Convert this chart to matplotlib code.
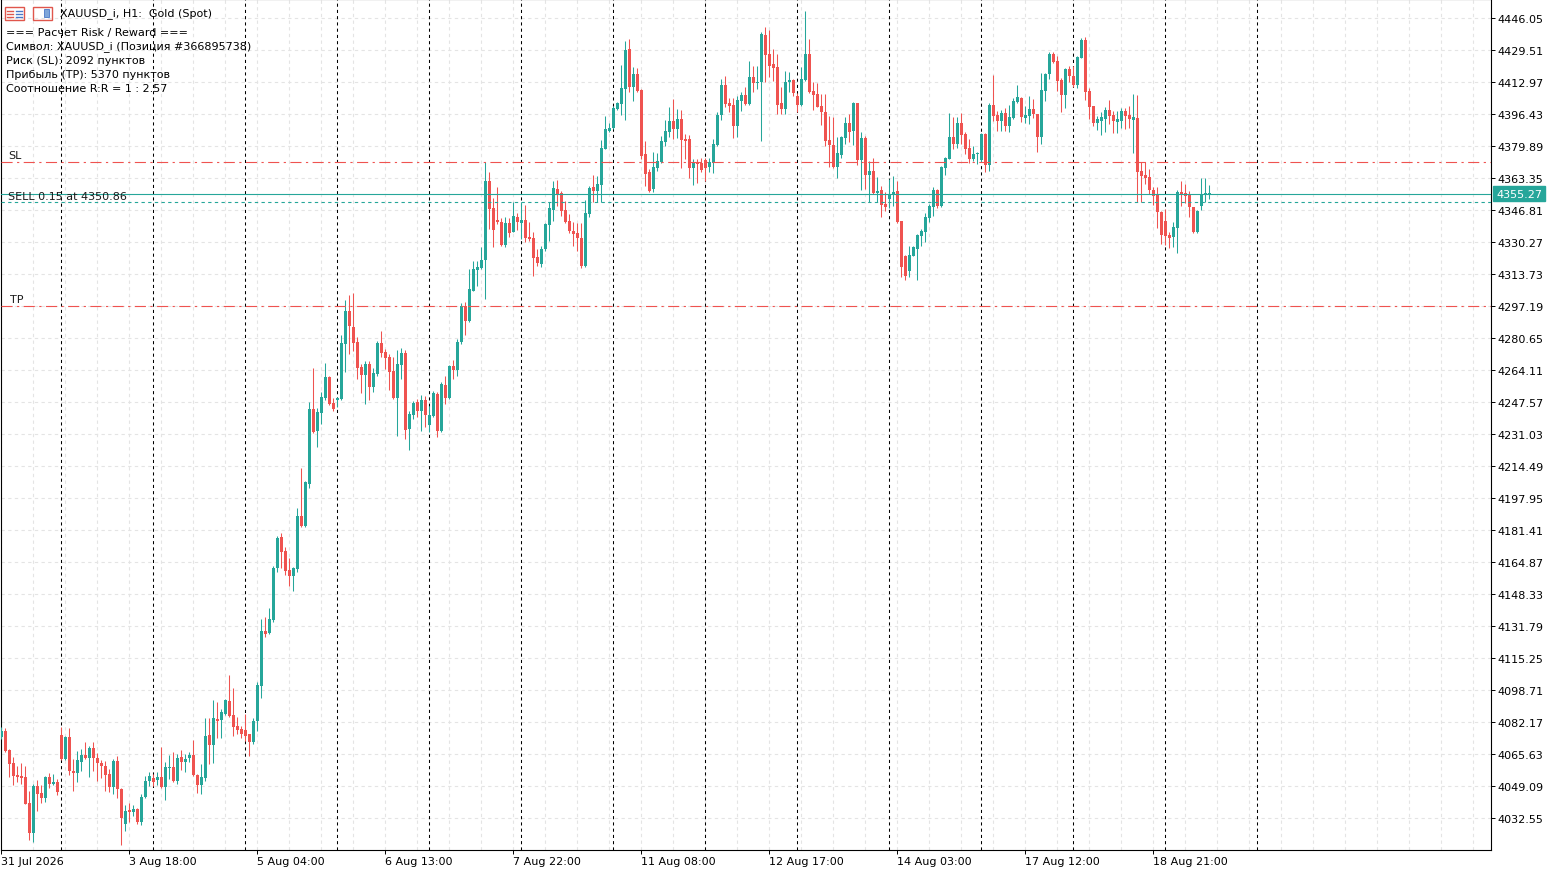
import numpy as np
import matplotlib
matplotlib.use('agg')
import matplotlib.pyplot as plt
from matplotlib.patches import Rectangle
from matplotlib.lines import Line2D
from matplotlib.ticker import MultipleLocator

# XAUUSD_i H1 bars (31 Jul 2026 09:00 .. 19 Aug 2026)
opens = [
    4074.4, 4077.5, 4067.7, 4061.0, 4054.8, 4054.2, 4053.7, 4040.3, 4024.8, 4049.1,
    4045.5, 4042.9, 4053.7, 4050.1, 4051.1, 4075.4, 4063.0, 4074.4, 4056.8, 4055.8,
    4061.5, 4065.1, 4063.5, 4068.7, 4063.5, 4061.0, 4059.4, 4055.3, 4048.6, 4062.0,
    4047.5, 4029.4, 4036.7, 4035.6, 4037.2, 4030.5, 4043.4, 4051.7, 4053.2, 4052.2,
    4053.7, 4048.6, 4058.6, 4059.0, 4051.7, 4064.1, 4061.5, 4063.5, 4065.1, 4054.8,
    4049.6, 4053.2, 4075.4, 4070.3, 4083.7, 4083.2, 4086.3, 4093.0, 4085.8, 4080.1,
    4078.5, 4078.0, 4075.9, 4071.8, 4082.7, 4100.8, 4129.2, 4128.1, 4134.9, 4161.8,
    4177.8, 4170.5, 4160.7, 4157.6, 4161.2, 4188.6, 4183.5, 4205.2, 4243.9, 4232.6,
    4241.9, 4249.6, 4260.5, 4247.0, 4248.6, 4249.1, 4277.5, 4294.6, 4286.3, 4278.6,
    4265.6, 4261.5, 4267.2, 4255.3, 4262.0, 4278.1, 4273.4, 4270.8, 4263.6, 4249.6,
    4266.7, 4272.9, 4233.6, 4240.8, 4247.6, 4242.9, 4248.6, 4235.7, 4240.3, 4251.7,
    4232.6, 4256.3, 4249.6, 4266.2, 4264.1, 4278.6, 4297.2, 4289.4, 4304.9, 4315.8,
    4316.8, 4321.0, 4361.8, 4347.8, 4341.6, 4340.6, 4328.7, 4340.1, 4335.4, 4343.2,
    4340.1, 4341.6, 4332.8, 4332.3, 4322.5, 4318.9, 4326.6, 4339.1, 4346.8, 4357.7,
    4355.6, 4346.8, 4341.1, 4335.9, 4334.9, 4332.3, 4317.9, 4344.7, 4358.7, 4356.6,
    4359.7, 4378.3, 4387.6, 4389.2, 4399.0, 4401.6, 4409.4, 4430.0, 4410.4, 4417.1,
    4408.8, 4375.7, 4366.4, 4357.7, 4368.5, 4371.6, 4382.0, 4387.1, 4392.8, 4388.7,
    4393.8, 4383.5, 4383.5, 4368.5, 4371.6, 4371.1, 4372.7, 4369.0, 4371.1, 4380.4,
    4395.9, 4411.4, 4402.1, 4401.1, 4390.2, 4403.1, 4406.2, 4401.6, 4415.6, 4412.5,
    4413.0, 4437.3, 4427.4, 4422.3, 4420.7, 4402.1, 4399.0, 4413.0, 4414.0, 4405.7,
    4401.1, 4414.0, 4427.4, 4408.3, 4406.8, 4400.6, 4397.5, 4383.0, 4380.4, 4369.0,
    4375.2, 4384.0, 4391.8, 4387.6, 4402.1, 4372.7, 4384.0, 4364.9, 4367.0, 4355.6,
    4357.1, 4349.9, 4352.5, 4354.6, 4356.6, 4341.1, 4323.0, 4315.3, 4323.0, 4326.6,
    4333.4, 4335.4, 4342.7, 4348.4, 4357.1, 4348.9, 4368.5, 4373.2, 4384.5, 4380.9,
    4391.8, 4386.1, 4378.9, 4373.2, 4375.8, 4372.7, 4386.1, 4370.1, 4401.1, 4395.9,
    4392.8, 4396.9, 4390.2, 4394.3, 4402.6, 4404.7, 4394.3, 4395.4, 4399.0, 4396.4,
    4384.5, 4408.3, 4417.1, 4427.4, 4423.8, 4414.0, 4406.2, 4419.7, 4416.1, 4411.4,
    4425.4, 4434.7, 4408.3, 4400.6, 4391.8, 4392.8, 4393.8, 4398.5, 4395.9, 4392.3,
    4392.8, 4398.0, 4395.9, 4393.3, 4394.3, 4367.0, 4364.9, 4363.9, 4357.1, 4354.6,
    4345.8, 4341.1, 4333.9, 4332.8, 4337.5, 4356.1, 4355.6, 4354.6, 4348.4, 4335.4,
    4348.9, 4354.9, 4355.1,
]
highs = [
    4079.6, 4079.0, 4068.0, 4064.1, 4059.4, 4061.0, 4059.4, 4046.5, 4050.1, 4052.2,
    4049.6, 4054.2, 4055.8, 4055.3, 4052.7, 4079.6, 4074.9, 4079.0, 4063.0, 4067.2,
    4068.2, 4071.8, 4069.7, 4071.8, 4066.1, 4062.5, 4062.0, 4057.9, 4063.0, 4064.6,
    4047.9, 4039.3, 4040.3, 4039.3, 4037.7, 4044.9, 4054.2, 4056.3, 4055.3, 4056.3,
    4069.2, 4061.5, 4065.1, 4066.7, 4065.6, 4067.7, 4065.6, 4066.7, 4072.8, 4055.3,
    4060.4, 4084.2, 4084.2, 4093.5, 4092.5, 4088.9, 4093.9, 4106.4, 4099.7, 4084.7,
    4080.1, 4086.3, 4076.2, 4084.2, 4102.8, 4135.4, 4136.4, 4141.1, 4162.8, 4178.3,
    4179.8, 4172.6, 4166.9, 4162.3, 4192.8, 4213.4, 4206.7, 4247.6, 4265.1, 4244.5,
    4252.7, 4267.7, 4261.0, 4249.6, 4250.1, 4282.2, 4300.3, 4302.9, 4303.9, 4281.2,
    4267.2, 4268.8, 4268.8, 4265.1, 4279.1, 4284.3, 4275.0, 4272.4, 4270.8, 4274.4,
    4275.5, 4274.4, 4242.9, 4248.1, 4249.1, 4251.2, 4250.7, 4245.5, 4253.2, 4252.7,
    4257.9, 4261.0, 4266.7, 4269.3, 4280.1, 4298.7, 4299.2, 4316.3, 4320.4, 4320.4,
    4327.7, 4371.6, 4366.4, 4353.0, 4358.7, 4342.7, 4343.2, 4342.7, 4350.9, 4345.2,
    4350.9, 4349.4, 4340.6, 4335.4, 4326.6, 4328.2, 4340.1, 4350.9, 4361.8, 4362.3,
    4356.6, 4351.5, 4344.7, 4340.6, 4340.1, 4340.1, 4352.0, 4359.2, 4364.9, 4364.4,
    4383.0, 4395.4, 4391.8, 4400.6, 4402.6, 4421.8, 4434.2, 4435.2, 4420.7, 4420.2,
    4409.4, 4382.5, 4368.0, 4376.8, 4376.3, 4385.1, 4393.3, 4400.0, 4404.2, 4399.0,
    4398.5, 4386.1, 4385.6, 4373.2, 4373.2, 4373.7, 4373.7, 4373.7, 4383.5, 4397.5,
    4414.5, 4416.1, 4404.7, 4404.7, 4405.7, 4407.8, 4410.4, 4423.8, 4421.2, 4421.2,
    4438.8, 4441.4, 4439.8, 4430.0, 4427.4, 4410.4, 4418.7, 4418.1, 4414.5, 4407.3,
    4420.7, 4449.7, 4435.2, 4413.0, 4412.5, 4406.8, 4406.8, 4395.4, 4394.9, 4384.5,
    4385.1, 4394.9, 4396.4, 4402.6, 4402.3, 4387.1, 4385.1, 4372.1, 4373.7, 4363.9,
    4359.2, 4356.1, 4362.8, 4364.4, 4361.8, 4341.3, 4323.3, 4328.2, 4328.2, 4334.2,
    4337.0, 4345.2, 4349.9, 4358.7, 4357.7, 4369.3, 4374.2, 4396.9, 4394.9, 4394.9,
    4396.9, 4387.1, 4383.5, 4379.9, 4376.8, 4386.6, 4386.6, 4402.1, 4416.6, 4398.0,
    4398.5, 4399.5, 4401.1, 4404.7, 4411.4, 4405.2, 4400.6, 4405.7, 4404.2, 4396.6,
    4417.6, 4417.4, 4428.5, 4428.5, 4426.4, 4415.0, 4420.2, 4421.2, 4421.2, 4426.4,
    4435.7, 4436.2, 4409.9, 4400.8, 4395.4, 4397.5, 4400.0, 4403.7, 4398.0, 4398.0,
    4399.5, 4399.5, 4400.6, 4406.8, 4406.2, 4371.6, 4371.6, 4368.0, 4358.7, 4358.7,
    4346.3, 4347.3, 4335.4, 4340.6, 4357.1, 4361.8, 4360.2, 4356.6, 4348.6, 4346.6,
    4363.3, 4363.3, 4359.7,
]
lows = [
    4073.4, 4066.6, 4053.7, 4049.6, 4051.1, 4050.1, 4039.6, 4021.2, 4020.1, 4036.2,
    4040.3, 4040.8, 4048.0, 4049.6, 4044.4, 4062.6, 4062.5, 4054.8, 4046.5, 4051.1,
    4056.8, 4063.0, 4053.7, 4056.8, 4051.7, 4053.2, 4046.5, 4046.0, 4044.9, 4042.9,
    4018.6, 4025.8, 4030.5, 4033.6, 4029.4, 4028.9, 4042.9, 4049.1, 4049.1, 4049.6,
    4048.3, 4041.8, 4052.7, 4051.1, 4050.1, 4057.3, 4056.3, 4061.5, 4054.2, 4045.5,
    4044.9, 4051.7, 4060.4, 4061.0, 4073.9, 4073.9, 4085.8, 4084.9, 4074.9, 4075.9,
    4073.9, 4072.3, 4064.6, 4070.8, 4077.5, 4094.6, 4126.1, 4127.6, 4133.8, 4159.7,
    4161.8, 4158.1, 4152.5, 4149.9, 4159.7, 4182.9, 4183.1, 4203.1, 4231.5, 4224.3,
    4236.2, 4248.6, 4246.0, 4242.9, 4245.0, 4248.6, 4263.1, 4272.4, 4273.9, 4259.5,
    4252.2, 4246.5, 4248.6, 4252.7, 4261.0, 4270.8, 4264.6, 4253.8, 4249.1, 4230.0,
    4259.5, 4228.4, 4222.8, 4238.8, 4239.8, 4232.6, 4234.6, 4232.0, 4239.8, 4229.5,
    4232.0, 4246.5, 4249.1, 4259.5, 4261.0, 4277.5, 4282.2, 4288.9, 4304.7, 4307.5,
    4316.3, 4300.8, 4337.0, 4327.7, 4339.6, 4328.4, 4327.7, 4332.8, 4335.2, 4336.5,
    4331.8, 4330.3, 4330.8, 4312.7, 4317.9, 4317.3, 4325.6, 4330.8, 4341.1, 4348.9,
    4343.7, 4340.1, 4334.9, 4328.2, 4325.6, 4316.8, 4317.5, 4343.2, 4350.9, 4350.9,
    4350.9, 4378.1, 4387.1, 4388.5, 4398.5, 4395.9, 4393.3, 4407.8, 4403.1, 4407.8,
    4373.2, 4359.2, 4356.1, 4356.1, 4367.0, 4371.1, 4379.9, 4384.5, 4383.5, 4384.0,
    4368.5, 4373.2, 4363.3, 4359.7, 4360.8, 4366.4, 4361.8, 4366.4, 4365.9, 4379.9,
    4393.3, 4400.0, 4397.5, 4384.0, 4384.5, 4398.0, 4401.1, 4401.1, 4407.8, 4409.4,
    4382.5, 4413.0, 4415.6, 4413.5, 4396.4, 4396.4, 4396.4, 4407.8, 4405.7, 4397.5,
    4400.6, 4413.5, 4407.5, 4398.5, 4399.8, 4390.7, 4379.9, 4369.0, 4368.7, 4363.3,
    4373.7, 4380.9, 4381.9, 4380.4, 4370.1, 4357.1, 4357.7, 4350.9, 4355.3, 4350.9,
    4343.2, 4346.3, 4347.8, 4348.9, 4340.3, 4312.2, 4310.6, 4312.2, 4322.8, 4310.6,
    4328.2, 4330.3, 4340.6, 4343.7, 4347.8, 4348.6, 4364.9, 4373.0, 4378.3, 4378.9,
    4380.9, 4375.8, 4371.1, 4372.1, 4370.6, 4371.6, 4366.4, 4367.0, 4392.8, 4387.6,
    4387.6, 4387.6, 4387.1, 4393.8, 4402.1, 4392.3, 4391.8, 4391.3, 4394.3, 4376.8,
    4380.9, 4403.1, 4414.5, 4423.0, 4408.3, 4397.5, 4399.5, 4413.0, 4410.4, 4409.9,
    4425.2, 4403.7, 4393.8, 4390.2, 4388.2, 4385.6, 4387.1, 4391.3, 4386.6, 4386.6,
    4389.2, 4388.7, 4389.2, 4376.3, 4350.9, 4350.9, 4360.2, 4355.1, 4349.4, 4337.5,
    4329.2, 4328.7, 4327.2, 4327.7, 4324.6, 4348.9, 4350.4, 4343.2, 4334.9, 4334.9,
    4346.8, 4350.9, 4352.5,
]
closes = [
    4077.5, 4067.2, 4060.4, 4054.2, 4053.7, 4053.2, 4039.8, 4024.8, 4049.1, 4044.9,
    4042.9, 4053.7, 4050.1, 4051.1, 4046.0, 4063.0, 4074.4, 4056.8, 4055.8, 4062.5,
    4065.1, 4063.5, 4068.7, 4063.5, 4061.0, 4059.4, 4054.8, 4048.6, 4062.0, 4047.5,
    4032.5, 4036.2, 4035.6, 4037.2, 4030.5, 4043.4, 4051.7, 4054.2, 4051.1, 4053.7,
    4048.6, 4058.9, 4059.1, 4051.7, 4063.5, 4061.5, 4063.0, 4065.1, 4054.8, 4049.6,
    4053.7, 4074.9, 4070.3, 4084.2, 4082.7, 4087.3, 4093.5, 4085.3, 4079.6, 4078.0,
    4075.9, 4074.9, 4071.8, 4082.7, 4101.3, 4129.2, 4127.6, 4135.4, 4161.8, 4177.3,
    4170.0, 4160.2, 4157.6, 4161.8, 4188.6, 4183.5, 4206.2, 4243.9, 4232.0, 4242.4,
    4250.1, 4260.5, 4246.5, 4243.9, 4249.6, 4278.1, 4294.6, 4286.8, 4278.1, 4265.1,
    4261.5, 4267.2, 4255.3, 4262.6, 4278.1, 4272.9, 4270.3, 4263.1, 4249.6, 4267.2,
    4272.9, 4233.1, 4241.4, 4247.0, 4242.9, 4248.6, 4240.8, 4240.8, 4252.2, 4232.6,
    4256.9, 4249.6, 4266.2, 4264.1, 4278.6, 4297.2, 4289.4, 4306.0, 4316.3, 4317.3,
    4321.0, 4361.8, 4347.3, 4336.5, 4340.6, 4328.7, 4340.1, 4334.9, 4343.7, 4340.6,
    4341.6, 4332.3, 4331.8, 4322.0, 4319.4, 4326.6, 4339.6, 4347.8, 4358.2, 4354.6,
    4346.3, 4340.6, 4335.9, 4334.4, 4332.3, 4317.9, 4345.2, 4358.2, 4356.6, 4360.2,
    4378.9, 4388.7, 4389.2, 4399.5, 4402.1, 4409.9, 4429.5, 4410.4, 4417.1, 4408.3,
    4374.7, 4365.4, 4356.6, 4369.0, 4372.1, 4382.5, 4387.6, 4392.8, 4388.7, 4393.8,
    4383.0, 4382.5, 4368.5, 4371.6, 4370.6, 4367.5, 4368.5, 4371.6, 4380.9, 4395.9,
    4411.4, 4401.6, 4400.6, 4390.2, 4403.7, 4406.2, 4401.6, 4415.6, 4412.5, 4413.0,
    4437.8, 4426.9, 4421.2, 4420.2, 4401.1, 4399.0, 4413.0, 4414.0, 4407.3, 4401.1,
    4414.5, 4427.4, 4407.8, 4406.2, 4400.0, 4397.5, 4382.5, 4380.4, 4369.0, 4376.3,
    4384.5, 4391.8, 4387.1, 4402.1, 4372.7, 4384.0, 4364.9, 4367.0, 4355.6, 4356.6,
    4349.4, 4348.4, 4355.1, 4356.1, 4340.6, 4317.3, 4312.7, 4323.5, 4327.7, 4333.9,
    4335.9, 4343.2, 4348.9, 4357.1, 4348.9, 4369.0, 4373.7, 4384.5, 4380.9, 4391.8,
    4385.6, 4378.3, 4373.2, 4375.8, 4376.3, 4386.1, 4370.1, 4401.1, 4395.4, 4392.8,
    4396.9, 4390.2, 4394.9, 4403.1, 4405.2, 4394.9, 4395.9, 4399.0, 4396.4, 4384.5,
    4408.8, 4417.1, 4427.4, 4423.3, 4413.5, 4406.2, 4419.7, 4416.1, 4411.4, 4425.9,
    4434.7, 4407.8, 4400.0, 4391.8, 4393.8, 4394.9, 4398.5, 4395.4, 4392.8, 4393.8,
    4398.0, 4395.4, 4393.8, 4394.9, 4366.4, 4364.4, 4363.3, 4357.1, 4354.0, 4345.8,
    4333.9, 4333.4, 4332.3, 4338.0, 4356.1, 4354.6, 4354.0, 4348.4, 4335.4, 4346.3,
    4355.1, 4355.3, 4355.27,
]

# bar index of each new trading day (period separators)
day_start_bars = [15, 38, 61, 84, 107, 130, 153, 176, 199, 222, 245, 268, 291, 314]

# time axis labels
label_bars = [0, 32, 64, 96, 128, 160, 192, 224, 256, 288]
time_labels = ['31 Jul 2026', '3 Aug 18:00', '5 Aug 04:00', '6 Aug 13:00',
               '7 Aug 22:00', '11 Aug 08:00', '12 Aug 17:00', '14 Aug 03:00',
               '17 Aug 12:00', '18 Aug 21:00']

price_ticks = [4032.55, 4049.09, 4065.63, 4082.17, 4098.71, 4115.25, 4131.79,
               4148.33, 4164.87, 4181.41, 4197.95, 4214.49, 4231.03, 4247.57,
               4264.11, 4280.65, 4297.19, 4313.73, 4330.27, 4346.81, 4363.35,
               4379.89, 4396.43, 4412.97, 4429.51, 4446.05]

bid_price = 4355.27
entry_price = 4350.86
sl_price = 4371.78
tp_price = 4297.16

info_lines = ['=== Расчет Risk / Reward ===',
              'Символ: XAUUSD_i (Позиция #366895738)',
              'Риск (SL): 2092 пунктов',
              'Прибыль (TP): 5370 пунктов',
              'Соотношение R:R = 1 : 2.57']

TEAL = '#26a69a'
RED = '#ef5350'
W, H = 1552, 870

fig = plt.figure(figsize=(W / 100, H / 100), dpi=100)
fig.patch.set_facecolor('white')
ax = fig.add_axes([0.5 / W, 19 / H, 1490.5 / W, 851 / H])

o = np.array(opens)
c = np.array(closes)
hi = np.array(highs)
lo = np.array(lows)
idx = np.arange(len(c))
up = c >= o
cols = np.where(up, TEAL, RED)

# wicks + bodies
ax.vlines(idx, np.minimum(lo, np.minimum(o, c)), np.maximum(hi, np.maximum(o, c)),
          colors=cols, lw=0.75, zorder=3)
body = np.abs(c - o)
body_h = np.maximum(body, 0.5)
ax.bar(idx, body_h, bottom=np.minimum(o, c) - (body_h - body) / 2, width=0.72,
       color=cols, lw=0, zorder=3)

ax.set_xlim(-0.2, -0.2 + 1490.5 / 4)
ax.set_ylim(4016.0, 4455.87)

# period separators
for b in day_start_bars:
    ax.axvline(b, color='black', lw=0.75, ls=(0, (3, 3)), zorder=2)

# trade levels
ax.axhline(bid_price, color=TEAL, lw=0.8, zorder=5)
ax.axhline(entry_price, color=TEAL, lw=0.8, ls=(0, (3, 3)), zorder=5)
ax.axhline(sl_price, color=RED, lw=0.8, ls=(0, (10, 4, 2, 4)), zorder=5)
ax.axhline(tp_price, color=RED, lw=0.8, ls=(0, (10, 4, 2, 4)), zorder=5)

lab_kw = dict(xycoords=('axes fraction', 'data'), textcoords='offset pixels',
              va='bottom', ha='left', fontsize=8, color='#1a1a1a', zorder=6)
ax.annotate('SL', xy=(0, sl_price), xytext=(8, 2), **lab_kw)
ax.annotate('TP', xy=(0, tp_price), xytext=(9, 2), **lab_kw)
ax.annotate('SELL 0.15 at 4350.86', xy=(0, entry_price), xytext=(8, 1), **lab_kw)

# price tag for current bid
ax.annotate(f'{bid_price:.2f}', xy=(1, bid_price), xycoords=('axes fraction', 'data'),
            xytext=(5, 0), textcoords='offset pixels', va='center', ha='left',
            color='white', fontsize=8, annotation_clip=False,
            bbox=dict(boxstyle='square,pad=0.25', fc=TEAL, ec=TEAL))

# axes, ticks and grid
ax.yaxis.tick_right()
ax.set_yticks(price_ticks)
ax.set_yticklabels([f'{p:.2f}' for p in price_ticks])
ax.tick_params(axis='y', direction='out', length=3, width=0.7, labelsize=8, pad=1.5)
ax.set_xticks(label_bars)
ax.set_xticklabels(time_labels, ha='left')
ax.tick_params(axis='x', which='major', direction='out', length=3, width=0.7,
               labelsize=8, pad=1.5)
ax.xaxis.set_minor_locator(MultipleLocator(8))
ax.tick_params(axis='x', which='minor', length=0)
ax.grid(True, axis='x', which='both', color='#e4e4e4', lw=0.8, ls=(0, (3, 3)))
ax.grid(True, axis='y', which='major', color='#e4e4e4', lw=0.8, ls=(0, (3, 3)))
ax.set_axisbelow(True)
for s in ax.spines.values():
    s.set_color('black')
    s.set_linewidth(0.8)

# header icons
def fx(x):
    return x / W


def fy(y):
    return 1 - y / H


fig.add_artist(Rectangle((fx(5), fy(21)), 19 / W, 13 / H, transform=fig.transFigure,
                         fill=False, ec='#e0564c', lw=1.0))
for yy in (11.5, 14.5, 17.5):
    fig.add_artist(Line2D([fx(7), fx(13)], [fy(yy), fy(yy)], transform=fig.transFigure,
                          color='#e0564c', lw=1.0))
    fig.add_artist(Line2D([fx(16), fx(22)], [fy(yy), fy(yy)], transform=fig.transFigure,
                          color='#4a78c8', lw=1.0))
fig.add_artist(Rectangle((fx(33), fy(21)), 19 / W, 13 / H, transform=fig.transFigure,
                         fill=False, ec='#e0564c', lw=1.0))
fig.add_artist(Rectangle((fx(44), fy(18)), 5 / W, 8 / H, transform=fig.transFigure,
                         fc='#7fa6d9', ec='#4a78c8', lw=0.6))

fig.text(fx(60), fy(14), 'XAUUSD_i, H1:  Gold (Spot)', fontsize=8, va='center',
         ha='left', color='black')
for k, line in enumerate(info_lines):
    fig.text(fx(6), fy(33 + 14 * k), line, fontsize=8, va='center', ha='left',
             color='black')

fig.savefig('out.png', dpi=100)
